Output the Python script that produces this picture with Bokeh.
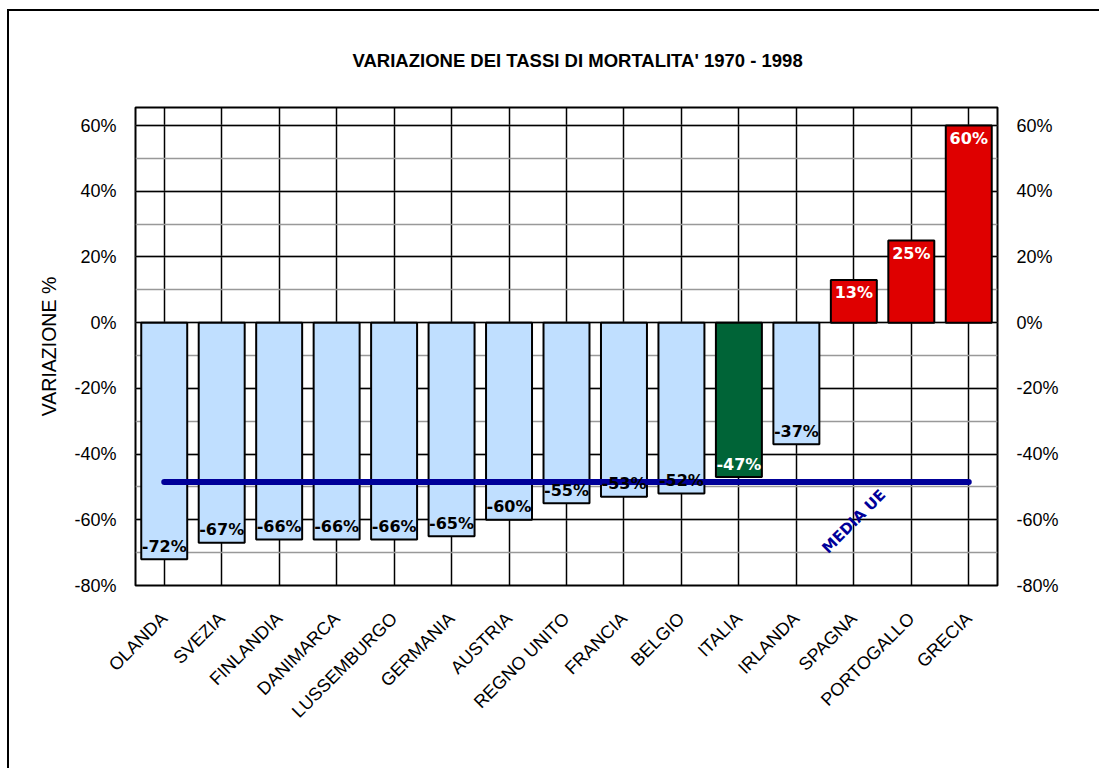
import math
from bokeh.plotting import figure
from bokeh.models import (Range1d, FactorRange, LinearAxis, SingleIntervalTicker,
                          CustomJSTickFormatter, ColumnDataSource, Label)
from bokeh.core.properties import value
from bokeh.embed import file_html
from bokeh.resources import INLINE

# ---- data ----
countries = ["OLANDA", "SVEZIA", "FINLANDIA", "DANIMARCA", "LUSSEMBURGO", "GERMANIA",
             "AUSTRIA", "REGNO UNITO", "FRANCIA", "BELGIO", "ITALIA", "IRLANDA",
             "SPAGNA", "PORTOGALLO", "GRECIA"]
variazione = [-72, -67, -66, -66, -66, -65, -60, -55, -53, -52, -47, -37, 13, 25, 60]
media_ue = -48.5
title_text = "VARIAZIONE DEI TASSI DI MORTALITA'  1970 - 1998"
y_label = "VARIAZIONE %"
media_label = "MEDIA UE"

# ---- styles ----
BLUE = "#C0DFFF"
GREEN = "#006437"
RED = "#DF0000"
NAVY = "#000099"

bar_colors = []
label_colors = []
for c, v in zip(countries, variazione):
    if c == "ITALIA":
        bar_colors.append(GREEN); label_colors.append("white")
    elif v > 0:
        bar_colors.append(RED); label_colors.append("white")
    else:
        bar_colors.append(BLUE); label_colors.append("black")

labels = ["%d%%" % v for v in variazione]
offsets = [13 if v > 0 else -13 for v in variazione]

src = ColumnDataSource(dict(x=countries, top=variazione, color=bar_colors,
                            label=labels, lcolor=label_colors, yoff=offsets))

p = figure(width=1092, height=759, x_range=FactorRange(*countries),
           y_range=Range1d(-80, 65.5), output_backend="svg", toolbar_location=None,
           min_border_left=126, min_border_right=104, min_border_top=95,
           min_border_bottom=185, background_fill_color="white",
           border_fill_color="white", margin=(9, 0, 0, 7),
           styles={"border-top": "2px solid black", "border-left": "2px solid black"})

p.title.text = title_text
p.title.align = "left"
p.title.offset = 217
p.title.standoff = 73
p.title.text_font = "Liberation Sans"
p.title.text_font_style = "bold"
p.title.text_font_size = "18.5px"
p.title.text_color = "black"

p.outline_line_color = "black"
p.outline_line_width = 2

ticker = SingleIntervalTicker(interval=20, num_minor_ticks=2)
fmt = CustomJSTickFormatter(code="return tick.toFixed(0) + '%';")

yax = p.yaxis[0]
yax.ticker = ticker
yax.formatter = fmt
yax.axis_label = y_label

ryax = LinearAxis(ticker=ticker, formatter=fmt)
p.add_layout(ryax, "right")

for ax in [yax, ryax]:
    ax.axis_line_color = None
    ax.major_tick_line_color = None
    ax.minor_tick_line_color = None
    ax.major_tick_out = 0
    ax.major_tick_in = 0
    ax.minor_tick_out = 0
    ax.minor_tick_in = 0
    ax.major_label_standoff = 19
    ax.major_label_text_font = "Liberation Sans"
    ax.major_label_text_font_size = "18px"
    ax.major_label_text_color = "black"

yax.axis_label_text_font = "Liberation Sans"
yax.axis_label_text_font_size = "19.5px"
yax.axis_label_text_font_style = "normal"
yax.axis_label_text_color = "black"
yax.axis_label_standoff = 11

xax = p.xaxis[0]
xax.axis_line_color = None
xax.major_tick_line_color = None
xax.major_tick_out = 0
xax.major_tick_in = 0
xax.major_label_orientation = math.pi / 4
xax.major_label_text_font = "Liberation Sans"
xax.major_label_text_font_size = "18px"
xax.major_label_text_color = "black"
xax.major_label_standoff = 30

p.ygrid.grid_line_color = "black"
p.ygrid.grid_line_width = 1.5
p.ygrid.minor_grid_line_color = "#999999"
p.ygrid.minor_grid_line_width = 1.5
p.xgrid.grid_line_color = "black"
p.xgrid.grid_line_width = 1.5

p.vbar(x="x", top="top", bottom=0, width=0.8, source=src, fill_color="color",
       line_color="black", line_width=2)

p.line(x=[countries[0], countries[-1]], y=[media_ue, media_ue], line_color=NAVY,
       line_width=6, line_cap="round")

p.text(x="x", y="top", text="label", source=src, text_color="lcolor",
       text_font=value("DejaVu Sans"), text_font_style="bold", text_font_size="16px",
       text_align="center", text_baseline="middle", y_offset="yoff")

p.add_layout(Label(x=countries.index("SPAGNA") + 0.5, y=media_ue - 12, text=media_label,
                   angle=math.pi / 4, text_color=NAVY, text_font="DejaVu Sans",
                   text_font_style="bold", text_font_size="15px",
                   text_align="center", text_baseline="middle"))

open("out.html", "w").write(file_html(p, INLINE))
